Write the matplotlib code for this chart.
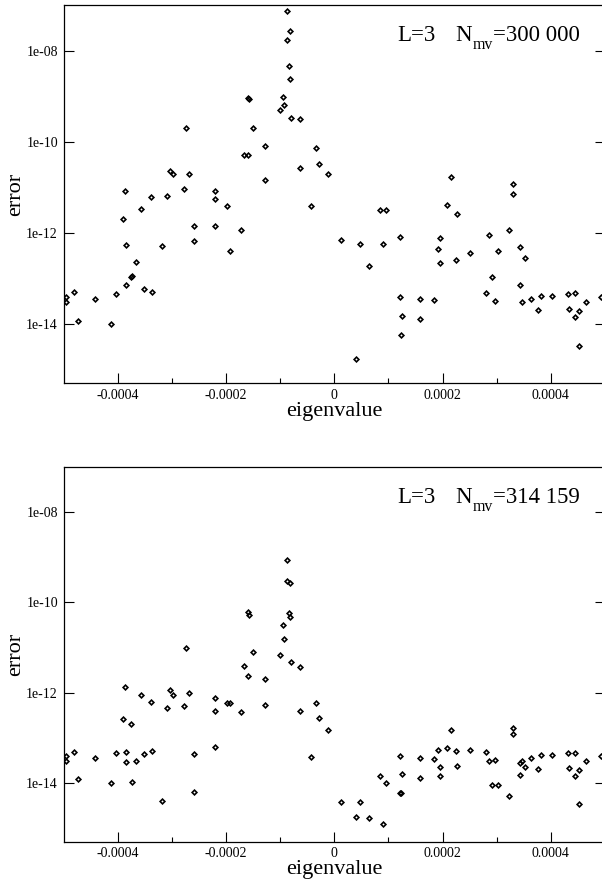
import numpy as np
import matplotlib
matplotlib.use("Agg")
import matplotlib.pyplot as plt
from matplotlib.ticker import NullLocator

plt.rcParams['font.family'] = ['Liberation Serif', 'DejaVu Serif']

# eigenvalues, in units of 1e-5 (same set in both panels)
eig_1e5 = [-49.60, -49.49, -48.01, -47.33, -44.19, -41.18, -40.22, -39.02, -38.56, -38.52,
           -38.50, -37.54, -37.36, -36.68, -35.64, -35.09, -33.79, -33.67, -31.87, -30.84,
           -30.40, -29.79, -27.76, -27.44, -26.89, -25.91, -25.85, -22.09, -22.05, -21.94,
           -19.87, -19.22, -17.29, -16.58, -15.88, -15.94, -15.75, -15.07, -12.80, -12.74,
           -10.08, -9.53, -9.29, -8.79, -8.64, -8.42, -8.14, -8.10, -7.94, -6.30,
           -6.33, -4.34, -3.34, -2.86, -1.20, 1.27, 4.04, 4.80, 6.41, 8.53,
           9.49, 8.94, 12.08, 12.13, 12.32, 12.59, 15.88, 15.79, 18.45, 19.15,
           19.56, 19.46, 20.76, 21.61, 22.42, 22.70, 25.00, 27.98, 28.53, 29.07,
           29.71, 30.18, 32.32, 33.00, 33.05, 34.29, 34.33, 34.76, 35.27, 36.29,
           37.56, 38.17, 40.26, 43.12, 43.34, 44.54, 44.40, 45.19, 45.22, 46.48,
           49.29]

# log10(error), N_mv = 300 000
log_err_300000 = [-13.42, -13.52, -13.31, -13.93, -13.45, -14.01, -13.34, -11.69, -11.09, -12.26,
                  -13.15, -12.97, -12.96, -12.64, -11.48, -13.23, -11.22, -13.30, -12.30, -11.20,
                  -10.65, -10.72, -11.03, -9.69, -10.70, -11.86, -12.18, -11.08, -11.25, -11.85,
                  -11.41, -12.39, -11.93, -10.29, -10.29, -9.05, -9.06, -9.70, -10.09, -10.84,
                  -9.30, -9.03, -9.20, -7.14, -7.76, -8.34, -7.58, -8.62, -9.47, -9.51,
                  -10.58, -11.41, -10.15, -10.48, -10.70, -12.16, -14.77, -12.25, -12.72, -11.51,
                  -11.51, -12.24, -12.09, -13.41, -14.25, -13.82, -13.45, -13.90, -13.48, -12.35,
                  -12.11, -12.67, -11.39, -10.78, -12.60, -11.59, -12.45, -13.33, -12.06, -12.97,
                  -13.49, -12.41, -11.93, -10.93, -11.15, -12.31, -13.14, -13.52, -12.56, -13.45,
                  -13.69, -13.39, -13.39, -13.35, -13.67, -13.33, -13.85, -13.72, -14.48, -13.52,
                  -13.41]

# log10(error), N_mv = 314 159
log_err_314159 = [-13.41, -13.51, -13.31, -13.92, -13.45, -14.01, -13.34, -12.58, -11.88, -13.31,
                  -13.53, -12.70, -13.98, -13.51, -12.05, -13.37, -12.21, -13.30, -14.41, -12.35,
                  -11.94, -12.05, -12.29, -11.02, -12.02, -13.37, -14.19, -12.13, -12.41, -13.20,
                  -12.22, -12.22, -12.42, -11.41, -11.63, -10.21, -10.28, -11.11, -11.71, -12.27,
                  -11.17, -10.50, -10.81, -9.06, -9.53, -10.24, -9.57, -10.32, -11.33, -11.43,
                  -12.40, -13.43, -12.22, -12.57, -12.83, -14.43, -14.76, -14.43, -14.78, -13.85,
                  -14.00, -14.92, -13.41, -14.22, -14.23, -13.81, -13.45, -13.90, -13.48, -13.28,
                  -13.64, -13.85, -13.22, -12.82, -13.30, -13.62, -13.28, -13.32, -13.52, -14.04,
                  -13.49, -14.05, -14.28, -12.78, -12.92, -13.56, -13.83, -13.51, -13.65, -13.45,
                  -13.69, -13.39, -13.39, -13.34, -13.67, -13.34, -13.85, -13.72, -14.46, -13.52,
                  -13.41]

xtick_vals = [-0.0004, -0.0002, 0.0, 0.0002, 0.0004]
xtick_labels = ['-0.0004', '-0.0002', '0', '0.0002', '0.0004']
ytick_vals = [1e-8, 1e-10, 1e-12, 1e-14]
ytick_labels = ['1e-08', '1e-10', '1e-12', '1e-14']

eig = np.array(eig_1e5) * 1e-5

fig = plt.figure(figsize=(6.02, 8.84), dpi=100)
ax_top = fig.add_axes([0.1055, 0.5667, 0.8995, 0.4276])
ax_bot = fig.add_axes([0.1055, 0.0479, 0.8995, 0.4242])
renderer = fig.canvas.get_renderer()


def put_label(ax, nmv):
    # "L=3    N_mv=..." built piece by piece so the subscript sits low like xmgrace
    pieces = [('L=3', 16.5, 0, 0), ('N', 16.5, 0, 20), ('mv', 11.4, 8, 1),
              ('=' + nmv, 16.5, 0, 0)]
    x_off = 0
    for s, size, drop, gap in pieces:
        x_off += gap
        t = ax.annotate(s, xy=(0.616, 0.904), xycoords='axes fraction',
                        xytext=(x_off, -drop), textcoords='offset pixels',
                        fontsize=size, ha='left', va='baseline')
        x_off += t.get_window_extent(renderer).width


def draw_panel(ax, log_err, nmv):
    err = 10.0 ** np.array(log_err)
    ax.plot(eig, err, linestyle='none', marker='D', markersize=2.4,
            markerfacecolor='none', markeredgecolor='black', markeredgewidth=1.2)
    ax.set_yscale('log')
    ax.set_xlim(-0.0005, 0.0005)
    ax.set_ylim(10 ** -15.3, 1e-7)
    ax.set_xticks(xtick_vals)
    ax.set_xticklabels(xtick_labels)
    ax.set_xticks([-0.0003, -0.0001, 0.0001, 0.0003], minor=True)
    ax.set_yticks(ytick_vals)
    ax.set_yticklabels(ytick_labels)
    ax.yaxis.set_minor_locator(NullLocator())
    ax.tick_params(axis='x', which='major', direction='in', length=7, width=0.8,
                   labelsize=10, pad=4, top=False)
    ax.tick_params(axis='x', which='minor', direction='in', length=3.5, width=0.8, top=False)
    ax.tick_params(axis='y', which='major', direction='in', length=7, width=0.8,
                   labelsize=10, pad=4, left=True, right=True)
    for s in ax.spines.values():
        s.set_linewidth(0.9)
    ax.set_xlabel('eigenvalue', fontsize=16, labelpad=0)
    ax.set_ylabel('error', fontsize=16, labelpad=1)
    put_label(ax, nmv)


draw_panel(ax_top, log_err_300000, '300 000')
draw_panel(ax_bot, log_err_314159, '314 159')

fig.savefig('out.png', dpi=100)
